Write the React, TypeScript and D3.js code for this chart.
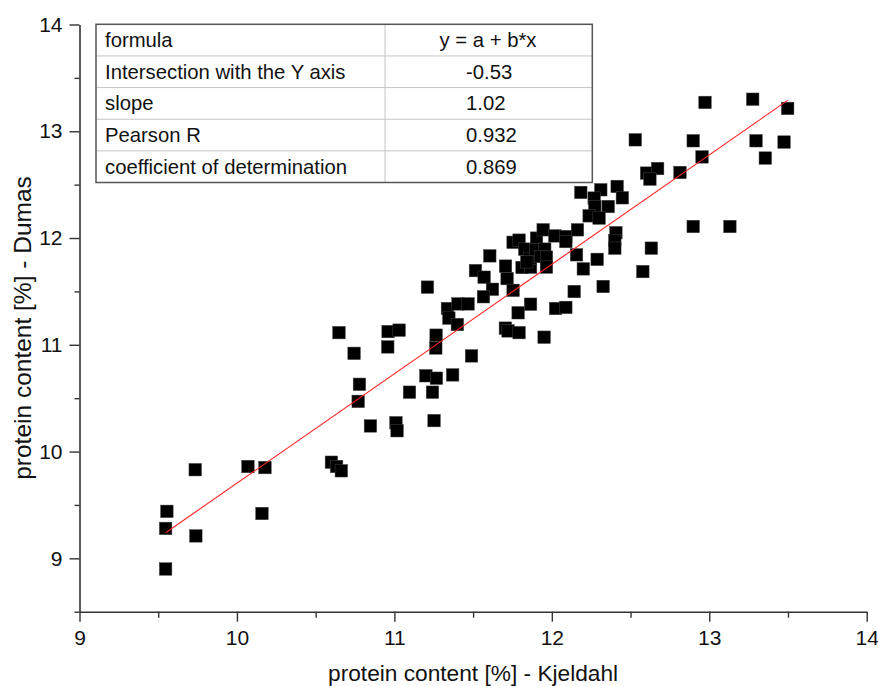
import React, { useEffect, useRef } from 'react';
import * as d3 from 'd3';

// protein content [%], Kjeldahl (x) against Dumas (y)
const kjeldahl = [
  9.547, 9.547, 9.555, 9.735, 9.739, 10.07, 10.178, 10.159, 10.6, 10.633,
  10.663, 10.77, 10.848, 11.01, 11.017, 10.648, 10.744, 10.96, 11.03, 10.958,
  11.265, 11.263, 11.49, 10.778, 11.252, 11.2, 11.267, 11.37, 11.096, 11.242,
  11.21, 11.337, 11.404, 11.468, 11.346, 11.4, 11.515, 11.57, 11.623, 11.566,
  11.606, 11.706, 11.716, 11.754, 11.754, 11.792, 11.828, 11.811, 11.865, 11.86,
  11.903, 11.945, 11.898, 11.955, 11.928, 11.966, 11.966, 12.019, 12.089, 12.089,
  12.163, 12.157, 12.2, 12.288, 12.142, 12.326, 12.407, 12.4, 12.4, 12.632,
  12.578, 12.898, 13.131, 11.865, 11.786, 12.024, 12.089, 11.705, 11.722, 11.792,
  11.951, 12.184, 12.311, 12.415, 12.448, 12.269, 12.358, 12.273, 12.237, 12.3,
  12.973, 13.276, 13.498, 12.53, 12.898, 13.297, 13.475, 12.954, 13.356, 12.602,
  12.672, 12.623, 12.814, 11.841,
];
const dumas = [
  8.9, 9.28, 9.44, 9.83, 9.21, 9.86, 9.85, 9.42, 9.9, 9.86,
  9.82, 10.47, 10.24, 10.27, 10.195, 11.114, 10.92, 11.124, 11.137, 10.98,
  11.09, 10.97, 10.896, 10.63, 10.29, 10.71, 10.687, 10.718, 10.556, 10.556,
  11.54, 11.34, 11.383, 11.383, 11.25, 11.19, 11.695, 11.633, 11.52, 11.45,
  11.833, 11.737, 11.62, 11.51, 11.96, 11.98, 11.896, 11.724, 11.727, 11.81,
  11.999, 12.077, 11.889, 11.896, 11.827, 11.821, 11.728, 12.02, 12.014, 11.967,
  12.077, 11.843, 11.711, 11.8, 11.499, 11.546, 12.05, 11.977, 11.905, 11.905,
  11.686, 12.108, 12.108, 11.38, 11.3, 11.34, 11.35, 11.156, 11.13, 11.114,
  11.071, 12.427, 12.452, 12.483, 12.377, 12.374, 12.295, 12.295, 12.208, 12.187,
  13.27, 13.3, 13.214, 12.92, 12.911, 12.911, 12.899, 12.76, 12.749, 12.608,
  12.651, 12.552, 12.614, 11.777,
];

const xTicks = [9, 10, 11, 12, 13, 14];
const yTicks = [9, 10, 11, 12, 13, 14];

const tableLabels = ['formula', 'Intersection with the Y axis', 'slope', 'Pearson R', 'coefficient of determination'];
const tableValues = ['y = a + b*x', '-0.53', '1.02', '0.932', '0.869'];

// unrounded fit coefficients for the red line
const fitIntercept = -0.546;
const fitSlope = 1.025;

const W = 878;
const H = 686;
const FONT = '"Liberation Sans", Arial, sans-serif';

const App = () => {
  const ref = useRef<SVGSVGElement>(null);

  useEffect(() => {
    const svg = d3.select(ref.current);
    svg.selectAll('*').remove();

    const x = d3.scaleLinear().domain([9, 14]).range([79.5, 866.7]);
    const y = d3.scaleLinear().domain([8.5, 14]).range([611.7, 24.5]);

    const axisColor = '#333';

    // x axis
    const gx = svg.append('g').attr('transform', `translate(0,${y(8.5)})`);
    gx.call(d3.axisBottom(x).tickValues(xTicks).tickSize(10).tickSizeOuter(0).tickPadding(8).tickFormat(d3.format('d')));
    gx.append('g').call(
      d3.axisBottom(x).tickValues(d3.range(9.5, 14, 1)).tickSize(6).tickFormat(() => '')
    ).select('.domain').remove();

    // y axis
    const gy = svg.append('g').attr('transform', `translate(${x(9)},0)`);
    gy.call(d3.axisLeft(y).tickValues(yTicks).tickSize(10).tickSizeOuter(0).tickPadding(7).tickFormat(d3.format('d')));
    gy.append('g').call(
      d3.axisLeft(y).tickValues(d3.range(8.5, 14, 1)).tickSize(5).tickFormat(() => '')
    ).select('.domain').remove();

    svg.selectAll('.domain').attr('stroke', axisColor).attr('stroke-width', 1.6);
    svg.selectAll('.tick line').attr('stroke', axisColor).attr('stroke-width', 1.4);
    svg.selectAll('.tick text')
      .attr('font-size', 21)
      .attr('font-family', FONT)
      .attr('fill', '#111');

    // axis titles
    svg.append('text')
      .attr('x', (x(9) + x(14)) / 2)
      .attr('y', 681)
      .attr('text-anchor', 'middle')
      .attr('font-size', 22.7)
      .attr('font-family', FONT)
      .attr('fill', '#111')
      .text('protein content [%] - Kjeldahl');

    svg.append('text')
      .attr('transform', `translate(31,328) rotate(-90)`)
      .attr('text-anchor', 'middle')
      .attr('font-size', 24.5)
      .attr('font-family', FONT)
      .attr('fill', '#111')
      .text('protein content [%] - Dumas');

    // data points
    const pts = kjeldahl.map((k, i) => [k, dumas[i]]);
    const s = 12.5;
    svg.append('g')
      .selectAll('rect')
      .data(pts)
      .enter()
      .append('rect')
      .attr('x', (d) => x(d[0]) - s / 2)
      .attr('y', (d) => y(d[1]) - s / 2)
      .attr('width', s)
      .attr('height', s)
      .attr('fill', '#000')
      .attr('stroke', '#444')
      .attr('stroke-width', 0.5);

    // linear fit
    const xMin = d3.min(kjeldahl) as number;
    const xMax = d3.max(kjeldahl) as number;
    const line = d3.line<number>()
      .x((d) => x(d))
      .y((d) => y(fitIntercept + fitSlope * d));
    svg.append('path')
      .datum([xMin, xMax])
      .attr('d', line)
      .attr('fill', 'none')
      .attr('stroke', '#f22')
      .attr('stroke-width', 1.1);

    // result table
    const tLeft = 96, tRight = 592.3, tTop = 24.3, tBottom = 182.5, tCol = 385;
    const rowH = (tBottom - tTop) / tableLabels.length;
    const tbl = svg.append('g');
    tbl.append('rect')
      .attr('x', tLeft).attr('y', tTop)
      .attr('width', tRight - tLeft).attr('height', tBottom - tTop)
      .attr('fill', '#fff');
    tableLabels.forEach((lab, i) => {
      if (i > 0) {
        tbl.append('line')
          .attr('x1', tLeft).attr('x2', tRight)
          .attr('y1', tTop + i * rowH).attr('y2', tTop + i * rowH)
          .attr('stroke', '#c4c4c4').attr('stroke-width', 1);
      }
      tbl.append('text')
        .attr('x', tLeft + 9)
        .attr('y', tTop + i * rowH + rowH / 2 + 7)
        .attr('font-size', 20.3)
        .attr('font-family', FONT)
        .attr('fill', '#111')
        .text(lab);
      tbl.append('text')
        .attr('x', i === 0 ? 488 : 466)
        .attr('y', tTop + i * rowH + rowH / 2 + 7)
        .attr('text-anchor', i === 0 ? 'middle' : 'start')
        .attr('font-size', 20.3)
        .attr('font-family', FONT)
        .attr('fill', '#111')
        .text(tableValues[i]);
    });
    tbl.append('line')
      .attr('x1', tCol).attr('x2', tCol)
      .attr('y1', tTop).attr('y2', tBottom)
      .attr('stroke', '#c4c4c4').attr('stroke-width', 1);
    tbl.append('rect')
      .attr('x', tLeft).attr('y', tTop)
      .attr('width', tRight - tLeft).attr('height', tBottom - tTop)
      .attr('fill', 'none')
      .attr('stroke', '#555')
      .attr('stroke-width', 1.5);
  }, []);

  return (
    <svg
      ref={ref}
      width={W}
      height={H}
      style={{ position: 'absolute', left: 0, top: 0, background: '#fff' }}
    />
  );
};

export default App;
